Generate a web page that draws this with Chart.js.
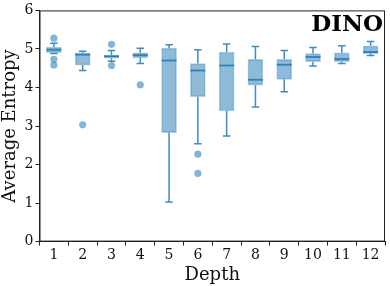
<!DOCTYPE html>
<html>
<head>
<meta charset="utf-8">
<script src="https://cdn.jsdelivr.net/npm/chart.js@4"></script>
<style>
  html, body { margin: 0; padding: 0; background: #fff; }
  #wrap { width: 390px; height: 286px; }
</style>
</head>
<body>
<div id="wrap"><canvas id="box-chart"></canvas></div>
<script>
var depths = ["1", "2", "3", "4", "5", "6", "7", "8", "9", "10", "11", "12"];
var whisker_low = [4.88, 4.44, 4.68, 4.62, 1.03, 2.54, 2.74, 3.49, 3.89, 4.56, 4.62, 4.83];
var q1 = [4.90, 4.58, 4.76, 4.77, 2.83, 3.76, 3.39, 4.06, 4.21, 4.67, 4.67, 4.88];
var median = [4.98, 4.85, 4.81, 4.84, 4.70, 4.44, 4.57, 4.20, 4.59, 4.79, 4.74, 4.92];
var q3 = [5.05, 4.90, 4.84, 4.90, 5.02, 4.62, 4.92, 4.73, 4.73, 4.88, 4.90, 5.08];
var whisker_high = [5.15, 4.94, 4.96, 5.02, 5.11, 4.98, 5.13, 5.06, 4.96, 5.04, 5.08, 5.19];
var outlier_depth = ["1", "1", "1", "2", "3", "3", "4", "6", "6"];
var outlier_value = [5.28, 4.73, 4.58, 3.03, 5.12, 4.57, 4.07, 2.27, 1.77];
var y_ticks = [0, 1, 2, 3, 4, 5, 6];

var box_color = 'rgba(31, 119, 180, 0.5)';
var line_color = 'rgba(31, 119, 180, 0.85)';

var boxes = [];
for (var i in depths) {
	boxes.push([q1[i], q3[i]]);
}
var outliers = [];
for (var j in outlier_depth) {
	outliers.push({x: outlier_depth[j], y: outlier_value[j]});
}

// whiskers, caps and medians drawn with the chart scales
var boxExtras = {
	id: 'boxExtras',
	afterDatasetsDraw: function(chart) {
		var ctx = chart.ctx;
		var xs = chart.scales.x;
		var ys = chart.scales.y;
		var meta = chart.getDatasetMeta(0);
		ctx.save();
		for (var i = 0; i < depths.length; i++) {
			var bar = meta.data[i];
			var cx = xs.getPixelForValue(i);
			var half = bar.width / 2;
			var cap = half / 2;
			var yLo = ys.getPixelForValue(whisker_low[i]);
			var yHi = ys.getPixelForValue(whisker_high[i]);
			var yQ1 = ys.getPixelForValue(q1[i]);
			var yQ3 = ys.getPixelForValue(q3[i]);
			var yMed = ys.getPixelForValue(median[i]);
			ctx.strokeStyle = line_color;
			ctx.lineWidth = 1.5;
			ctx.beginPath();
			ctx.moveTo(cx, yQ1); ctx.lineTo(cx, yLo);
			ctx.moveTo(cx, yQ3); ctx.lineTo(cx, yHi);
			ctx.moveTo(cx - cap, yLo); ctx.lineTo(cx + cap, yLo);
			ctx.moveTo(cx - cap, yHi); ctx.lineTo(cx + cap, yHi);
			ctx.stroke();
			ctx.lineWidth = 1.8;
			ctx.beginPath();
			ctx.moveTo(cx - half, yMed); ctx.lineTo(cx + half, yMed);
			ctx.stroke();
		}
		// frame
		var a = chart.chartArea;
		ctx.strokeStyle = '#222';
		ctx.lineWidth = 1;
		ctx.strokeRect(a.left + 0.5, a.top + 0.5, a.right - a.left - 1, a.bottom - a.top - 1);
		// title inside plot
		ctx.fillStyle = '#000';
		ctx.font = 'bold 23px "DejaVu Serif"';
		ctx.textAlign = 'right';
		ctx.textBaseline = 'top';
		ctx.fillText('DINO', a.right - 2, a.top + 3);
		ctx.restore();
	}
};

var serif = '"DejaVu Serif", serif';
var canvas = document.getElementById("box-chart");
var box_chart = new Chart(canvas, {
	type: 'bar',
	data: {
		labels: depths,
		datasets: [{
				label: 'box',
				data: boxes,
				backgroundColor: box_color,
				borderColor: 'rgba(31, 119, 180, 0.35)',
				borderWidth: 1,
				borderSkipped: false,
				barThickness: 15,
				order: 2
			}, {
				type: 'line',
				label: 'outliers',
				data: outliers,
				showLine: false,
				pointRadius: 3.6,
				pointBackgroundColor: 'rgba(31, 119, 180, 0.55)',
				pointBorderWidth: 0,
				order: 1
		}]
	},
	options: {
		responsive: true,
		maintainAspectRatio: false,
		animation: false,
		layout: { padding: { top: 7, right: 5, left: 0, bottom: 0 } },
		plugins: {
			legend: { display: false },
			tooltip: { enabled: false }
		},
		scales: {
			x: {
				offset: true,
				grid: { display: true, drawOnChartArea: false, drawTicks: true, tickLength: 4, color: '#222' },
				border: { color: '#222' },
				ticks: { color: '#111', font: { family: serif, size: 14 }, padding: 1, maxRotation: 0 },
				title: { display: true, text: 'Depth', color: '#111', font: { family: serif, size: 18 }, padding: { top: 0, bottom: 0 } }
			},
			y: {
				min: 0,
				max: 6,
				afterBuildTicks: function(scale) {
					scale.ticks = y_ticks.map(function(v) { return {value: v}; });
				},
				grid: { display: true, drawOnChartArea: false, drawTicks: true, tickLength: 4, color: '#222' },
				border: { color: '#222' },
				ticks: { color: '#111', font: { family: serif, size: 14 }, padding: 2 },
				title: { display: true, text: 'Average Entropy', color: '#111', font: { family: serif, size: 18 }, padding: { top: 0, bottom: 1 } }
			}
		}
	},
	plugins: [boxExtras]
});
</script>
</body>
</html>
